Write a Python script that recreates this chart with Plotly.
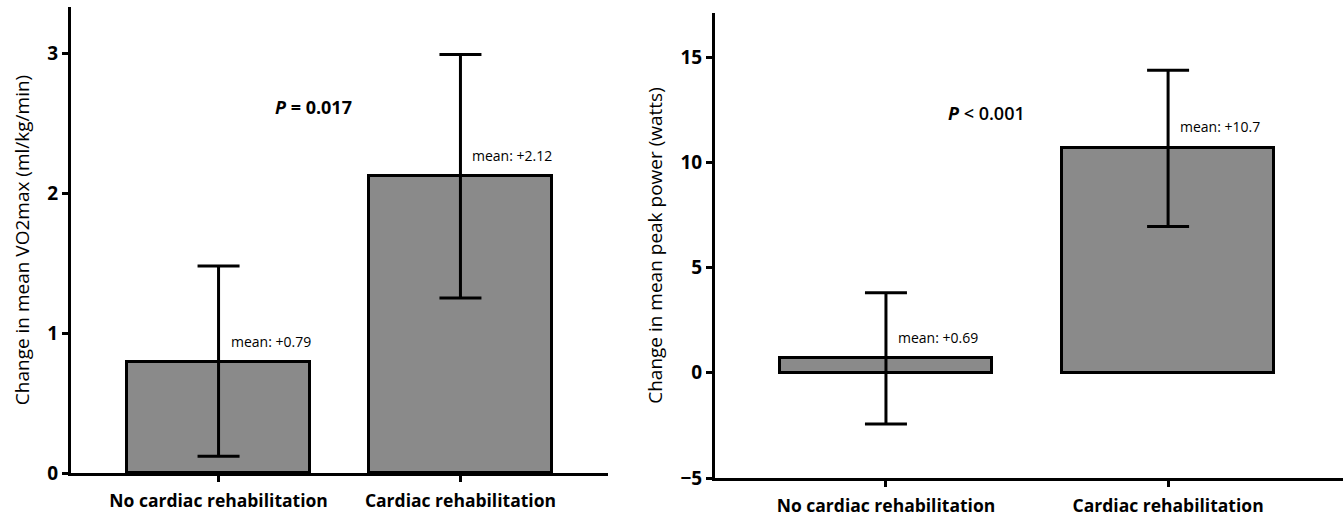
import plotly.graph_objects as go

categories = ["No cardiac rehabilitation", "Cardiac rehabilitation"]

vo2_mean = [0.79, 2.12]
vo2_err_plus = [0.69, 0.87]
vo2_err_minus = [0.67, 0.87]
vo2_labels = ["mean: +0.79", "mean: +2.12"]

pow_mean = [0.69, 10.7]
pow_err_plus = [3.12, 3.68]
pow_err_minus = [3.12, 3.75]
pow_labels = ["mean: +0.69", "mean: +10.7"]

FONT = "Open Sans"
BAR_COLOR = "#8a8a8a"

fig = go.Figure()

fig.add_trace(go.Bar(
    x=[0, 1], y=vo2_mean, width=0.756,
    marker=dict(color=BAR_COLOR, line=dict(color="black", width=3)),
    error_y=dict(type="data", symmetric=False, array=vo2_err_plus, arrayminus=vo2_err_minus,
                 color="black", thickness=3, width=21),
    xaxis="x", yaxis="y", showlegend=False, hoverinfo="skip"))

fig.add_trace(go.Bar(
    x=[0, 1], y=pow_mean, width=0.75,
    marker=dict(color=BAR_COLOR, line=dict(color="black", width=3)),
    error_y=dict(type="data", symmetric=False, array=pow_err_plus, arrayminus=pow_err_minus,
                 color="black", thickness=3, width=21),
    xaxis="x2", yaxis="y2", showlegend=False, hoverinfo="skip"))

tickfont = dict(family=FONT, size=19, color="black", weight="bold")
catfont = dict(family=FONT, size=17.5, color="black", weight="bold")
titlefont = dict(family=FONT, size=19, color="black", weight=500)

common_x = dict(showline=True, linecolor="black", linewidth=3, ticks="outside", ticklen=6,
                tickwidth=3, tickcolor="black", showgrid=False, zeroline=False,
                tickmode="array", tickvals=[0, 1], ticktext=categories, tickfont=catfont,
                ticklabelstandoff=4, automargin=False, fixedrange=True)
common_y = dict(showline=True, linecolor="black", linewidth=3, ticks="outside", ticklen=6,
                tickwidth=3, tickcolor="black", showgrid=False, zeroline=False,
                tickfont=tickfont, automargin=False, fixedrange=True)

fig.update_layout(
    width=1343, height=518,
    margin=dict(l=0, r=0, t=0, b=0),
    plot_bgcolor="white", paper_bgcolor="white",
    template="none",
    bargap=0,
    xaxis=dict(domain=[71/1343, 608/1343], range=[-0.61, 1.61], anchor="y", **common_x),
    yaxis=dict(domain=[45/518, 511/518], range=[0, 3.33], anchor="x", dtick=1,
               title=dict(text="Change in mean VO2max (ml/kg/min)", font=titlefont, standoff=13),
               **common_y),
    xaxis2=dict(domain=[715/1343, 1.0], range=[-0.606, 1.62], anchor="y2", **common_x),
    yaxis2=dict(domain=[40/518, 505/518], range=[-5, 17.1], anchor="x2",
                tickvals=[-5, 0, 5, 10, 15], ticktext=["\u22125", "0", "5", "10", "15"],
                title=dict(text="Change in mean peak power (watts)", font=titlefont, standoff=13),
                **common_y),
)

for i, (m, lab) in enumerate(zip(vo2_mean, vo2_labels)):
    fig.add_annotation(x=i, y=m, xref="x", yref="y", text=lab, showarrow=False,
                       xanchor="left", yanchor="middle", xshift=10, yshift=21,
                       font=dict(family=FONT, size=14, color="black"))
for i, (m, lab) in enumerate(zip(pow_mean, pow_labels)):
    fig.add_annotation(x=i, y=m, xref="x2", yref="y2", text=lab, showarrow=False,
                       xanchor="left", yanchor="middle", xshift=10, yshift=21,
                       font=dict(family=FONT, size=14, color="black"))

fig.add_annotation(x=313/1343, y=1-107/518, xref="paper", yref="paper",
                   text="<b><i>P</i> = 0.017</b>", showarrow=False,
                   xanchor="center", yanchor="middle",
                   font=dict(family=FONT, size=18, color="black"))
fig.add_annotation(x=986/1343, y=1-113/518, xref="paper", yref="paper",
                   text="<b><i>P</i></b> < 0.001", showarrow=False,
                   xanchor="center", yanchor="middle",
                   font=dict(family=FONT, size=18, color="black", weight=600))

fig.write_html("out.html", config={"displayModeBar": False},
               post_script="document.body.style.margin='0';")
